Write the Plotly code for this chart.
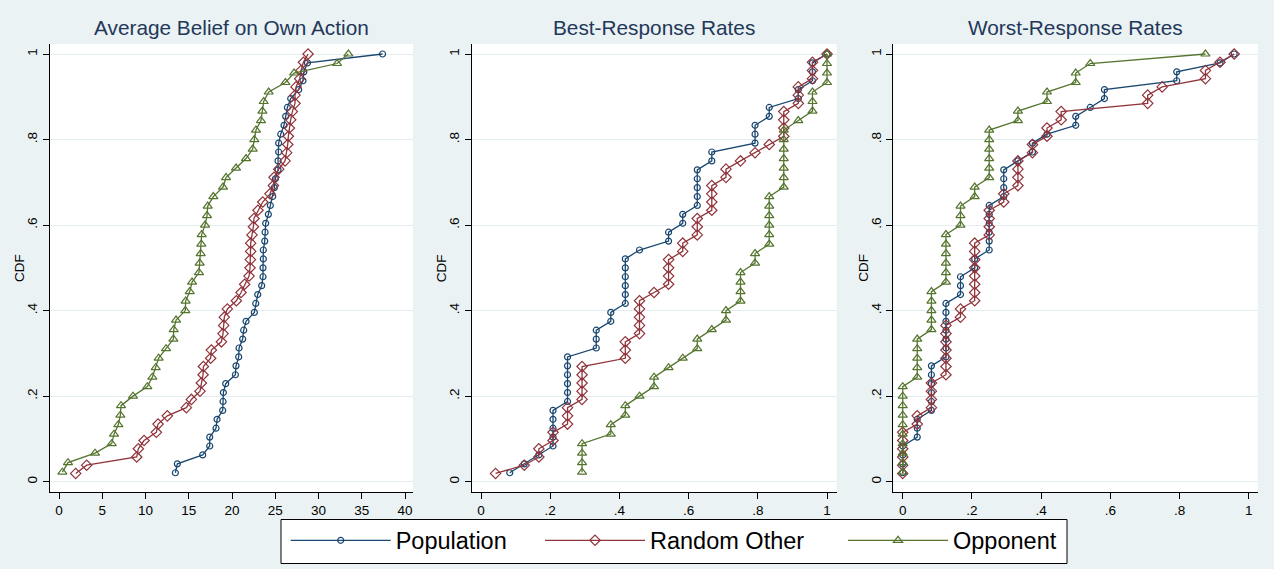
import plotly.graph_objects as go

# ---------------- data ----------------
series_names = ["Population", "Random Other", "Opponent"]

# Panel 1: Average Belief on Own Action (sorted observations)
belief_population = [13.45, 13.68, 16.61, 17.42, 17.42, 18.15, 18.27, 18.92, 18.96, 19.0,
                     19.27, 20.39, 20.46, 20.77, 20.81, 21.23, 21.35, 21.62, 22.58, 22.74,
                     22.97, 23.43, 23.58, 23.58, 23.62, 23.62, 23.78, 23.82, 23.89, 24.2,
                     24.43, 24.7, 24.89, 25.01, 25.32, 25.32, 25.39, 25.39, 25.63, 26.01,
                     26.2, 26.4, 26.78, 27.7, 28.2, 28.3, 28.72, 37.4]
belief_random_other = [1.93, 3.2, 8.98, 9.17, 9.83, 11.25, 11.45, 12.52, 14.72, 15.3,
                       16.3, 16.45, 16.65, 16.69, 17.53, 17.61, 18.77, 18.96, 19.04, 19.11,
                       19.46, 20.5, 21.04, 21.46, 21.97, 22.08, 22.12, 22.16, 22.16, 22.31,
                       22.47, 22.54, 23.0, 23.55, 24.39, 24.78, 24.86, 25.4, 26.13, 26.32,
                       26.44, 26.51, 26.63, 26.78, 26.97, 27.28, 27.28, 27.4, 27.82, 27.98,
                       28.25, 28.79]
belief_opponent = [0.39, 1.04, 4.16, 6.09, 6.36, 6.86, 7.09, 7.17, 8.55, 10.21,
                   10.79, 11.18, 11.52, 12.37, 13.22, 13.26, 13.53, 14.6, 14.64, 15.11,
                   15.38, 16.18, 16.26, 16.38, 16.45, 16.49, 16.88, 17.11, 17.19, 17.84,
                   18.96, 19.31, 20.46, 21.62, 22.39, 22.58, 22.77, 23.35, 23.51, 23.66,
                   24.24, 26.17, 27.17, 32.14, 33.45]

# Panel 2: Best-Response Rates
best_population = [.083, .125, .167, .208, .208, .208, .208, .208, .25, .25,
                   .25, .25, .25, .25, .333, .333, .333, .375, .375, .417,
                   .417, .417, .417, .417, .417, .458, .542, .542, .583, .583,
                   .625, .625, .625, .625, .625, .667, .667, .792, .792, .792,
                   .833, .833, .917, .917, .958, .958, .958, 1.0]
best_random_other = [.042, .125, .167, .167, .208, .208, .25, .25, .25, .292,
                     .292, .292, .292, .292, .417, .417, .417, .458, .458, .458,
                     .458, .458, .5, .542, .542, .542, .542, .583, .583, .625,
                     .625, .625, .667, .667, .667, .667, .708, .708, .75, .792,
                     .833, .875, .875, .875, .875, .917, .917, .917, .958, .958,
                     .958, 1.0]
best_opponent = [.292, .292, .292, .292, .375, .375, .417, .417, .458, .5,
                 .5, .542, .583, .625, .625, .667, .708, .708, .75, .75,
                 .75, .75, .792, .792, .833, .833, .833, .833, .833, .833,
                 .875, .875, .875, .875, .875, .875, .875, .917, .958, .958,
                 .958, 1.0, 1.0, 1.0, 1.0]

# Panel 3: Worst-Response Rates
worst_population = [0, 0, 0, 0, .042, .042, .042, .083, .083, .083,
                    .083, .083, .083, .125, .125, .125, .125, .125, .125, .125,
                    .167, .167, .167, .208, .208, .25, .25, .25, .25, .25,
                    .25, .292, .292, .292, .292, .333, .375, .375, .417, .5,
                    .5, .542, .583, .583, .792, .792, .917, .958]
worst_random_other = [0, 0, 0, 0, 0, 0, .042, .042, .083, .083,
                      .083, .083, .125, .125, .125, .125, .125, .125, .125, .167,
                      .167, .208, .208, .208, .208, .208, .208, .208, .208, .25,
                      .25, .25, .25, .292, .292, .333, .333, .333, .333, .375,
                      .375, .417, .417, .458, .458, .708, .708, .75, .875, .875,
                      .917, .958]
worst_opponent = [0, 0, 0, 0, 0, 0, 0, 0, 0, 0,
                  .042, .042, .042, .042, .042, .083, .083, .083, .083, .083,
                  .125, .125, .125, .125, .125, .125, .167, .167, .167, .208,
                  .208, .25, .25, .25, .25, .25, .25, .333, .333, .417,
                  .417, .5, .5, .542, .875]

panel_titles = ["Average Belief on Own Action", "Best-Response Rates", "Worst-Response Rates"]
panel_data = [
    [belief_population, belief_random_other, belief_opponent],
    [best_population, best_random_other, best_opponent],
    [worst_population, worst_random_other, worst_opponent],
]
x_tickvals = [[0, 5, 10, 15, 20, 25, 30, 35, 40], [0, .2, .4, .6, .8, 1], [0, .2, .4, .6, .8, 1]]
x_ticktext = [["0", "5", "10", "15", "20", "25", "30", "35", "40"],
              ["0", ".2", ".4", ".6", ".8", "1"], ["0", ".2", ".4", ".6", ".8", "1"]]
y_tickvals = [0, .2, .4, .6, .8, 1]
y_ticktext = ["0", ".2", ".4", ".6", ".8", "1"]

# ---------------- style ----------------
W, H = 1274, 569
BG = "#eaf2f3"
colors = ["#1a476f", "#90353b", "#55752f"]
symbols = ["circle-open", "diamond-open", "triangle-up-open"]
msizes = [6, 8, 8]
FONT = "Liberation Sans, Arial, sans-serif"

# panel pixel boxes (left, right) and shared (top, bottom)
panel_px = [(49.5, 413.0), (471.7, 836.7), (893.3, 1257.7)]
x_ranges = [[-1.1, 40.92], [-0.027, 1.028], [-0.0272, 1.026]]
top_px, bot_px = 44.0, 492.0
y_range = [-0.0242, 1.0234]

# legend geometry (pixels)
legend_box = (281, 519.5, 1067, 563.5)
legend_item_x = [285.7, 540.0, 843.0]
legend_top = 518.5


def ecdf(vals):
    s = sorted(vals)
    n = len(s)
    return s, [(i + 1) / n for i in range(n)]


legend_ids = ["legend", "legend2", "legend3"]

fig = go.Figure()
for p in range(3):
    ax = "" if p == 0 else str(p + 1)
    for s in range(3):
        xs, ys = ecdf(panel_data[p][s])
        fig.add_trace(go.Scatter(
            x=xs, y=ys, mode="lines+markers", name=series_names[s],
            xaxis="x" + ax, yaxis="y" + ax,
            line=dict(color=colors[s], width=1.3),
            marker=dict(symbol=symbols[s], size=msizes[s], color=colors[s],
                        line=dict(color=colors[s], width=1.2)),
            showlegend=(p == 0), legend=legend_ids[s],
        ))

layout = dict(
    width=W, height=H,
    paper_bgcolor=BG, plot_bgcolor="white",
    margin=dict(l=0, r=0, t=0, b=0),
    font=dict(family=FONT, color="black"),
    annotations=[],
    shapes=[dict(type="rect", xref="paper", yref="paper",
                 x0=legend_box[0] / W, x1=legend_box[2] / W,
                 y0=1 - legend_box[3] / H, y1=1 - legend_box[1] / H,
                 fillcolor="white", line=dict(color="black", width=1), layer="below")],
)
for s in range(3):
    layout[legend_ids[s]] = dict(
        orientation="h", x=legend_item_x[s] / W, xanchor="left",
        y=1 - legend_top / H, yanchor="top",
        bgcolor="rgba(0,0,0,0)", borderwidth=0,
        font=dict(size=23.5, color="black", family=FONT), itemwidth=100)

for p in range(3):
    ax = "" if p == 0 else str(p + 1)
    l, r = panel_px[p]
    layout["xaxis" + ax] = dict(
        domain=[l / W, r / W], range=x_ranges[p], anchor="y" + ax,
        showline=True, linecolor="black", linewidth=1, ticks="outside", ticklen=6,
        tickcolor="black", tickwidth=1, showgrid=False, zeroline=False,
        tickvals=x_tickvals[p], ticktext=x_ticktext[p],
        tickfont=dict(size=13.5, color="black", family=FONT),
    )
    layout["yaxis" + ax] = dict(
        domain=[1 - bot_px / H, 1 - top_px / H], range=y_range, anchor="x" + ax,
        showline=True, linecolor="black", linewidth=1, ticks="outside", ticklen=6,
        tickcolor="black", tickwidth=1, showgrid=True, gridcolor="#e3edef", gridwidth=1,
        zeroline=False, tickvals=y_tickvals, ticktext=y_ticktext, tickangle=-90,
        tickfont=dict(size=13.5, color="black", family=FONT),
    )
    layout["annotations"].append(dict(
        text=panel_titles[p], x=(l + r) / 2 / W, y=1 - 28 / H, xref="paper", yref="paper",
        xanchor="center", yanchor="middle", showarrow=False,
        font=dict(size=20.8, color="#23375a", family=FONT)))
    layout["annotations"].append(dict(
        text="CDF", x=(l - 29.5) / W, y=1 - (top_px + bot_px) / 2 / H, xref="paper", yref="paper",
        xanchor="center", yanchor="middle", textangle=-90, showarrow=False,
        font=dict(size=13.5, color="black", family=FONT)))

fig.update_layout(**layout)
fig.write_html("out.html",
               config={"displayModeBar": False},
               post_script="document.body.style.margin='0';"
                           "document.body.style.background='" + BG + "';")
